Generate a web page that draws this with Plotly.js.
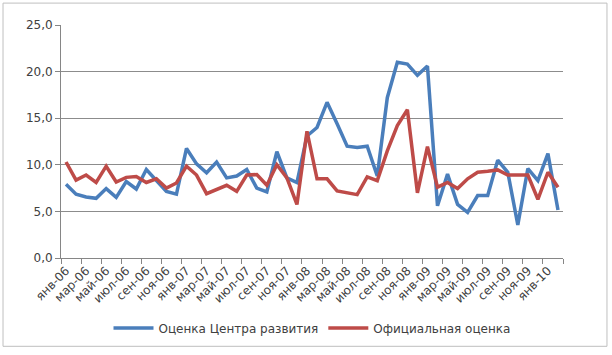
<!DOCTYPE html>
<html>
<head>
<meta charset="utf-8">
<script src="https://cdn.plot.ly/plotly-3.0.1.min.js"></script>
<style>html,body{margin:0;padding:0;background:#fff;}#chart{width:612px;height:355px;}</style>
</head>
<body>
<div id="chart"></div>
<script>
const months = [
  "янв-06","фев-06","мар-06","апр-06","май-06","июн-06","июл-06","авг-06","сен-06","окт-06","ноя-06","дек-06",
  "янв-07","фев-07","мар-07","апр-07","май-07","июн-07","июл-07","авг-07","сен-07","окт-07","ноя-07","дек-07",
  "янв-08","фев-08","мар-08","апр-08","май-08","июн-08","июл-08","авг-08","сен-08","окт-08","ноя-08","дек-08",
  "янв-09","фев-09","мар-09","апр-09","май-09","июн-09","июл-09","авг-09","сен-09","окт-09","ноя-09","дек-09",
  "янв-10","фев-10"
];
const centerEstimate = [
  7.9, 6.85, 6.55, 6.4, 7.45, 6.5, 8.2, 7.4, 9.5, 8.35, 7.15, 6.85,
  11.75, 10.1, 9.15, 10.3, 8.6, 8.8, 9.5, 7.5, 7.1, 11.4, 8.6, 8.1,
  13.1, 14.0, 16.7, 14.4, 12.0, 11.85, 12.0, 8.8, 17.2, 21.0, 20.8, 19.6,
  20.6, 5.6, 9.0, 5.75, 4.9, 6.7, 6.7, 10.5, 9.2, 3.55, 9.6, 8.3,
  11.2, 5.15
];
const officialEstimate = [
  10.3, 8.35, 8.9, 8.1, 9.85, 8.15, 8.65, 8.75, 8.1, 8.5, 7.5, 8.05,
  9.85, 8.9, 6.9, 7.3, 7.8, 7.15, 8.9, 8.95, 7.8, 10.0, 8.6, 5.75,
  13.6, 8.5, 8.5, 7.2, 7.0, 6.8, 8.7, 8.3, 11.5, 14.2, 15.9, 7.0,
  11.95, 7.6, 8.1, 7.45, 8.5, 9.2, 9.3, 9.45, 8.9, 8.9, 8.9, 6.3,
  9.2, 7.6
];
const seriesNames = ["Оценка Центра развития", "Официальная оценка"];
const yTicks = [0, 5, 10, 15, 20, 25];

const font = "DejaVu Sans, Verdana, sans-serif";
const traces = [
  {x: months, y: centerEstimate, name: seriesNames[0], type: "scatter", mode: "lines",
   line: {color: "#4A7EBB", width: 3.5}},
  {x: months, y: officialEstimate, name: seriesNames[1], type: "scatter", mode: "lines",
   line: {color: "#BE4B48", width: 3.5}}
];
const layout = {
  width: 612, height: 355,
  margin: {l: 61, r: 49, t: 25, b: 95},
  paper_bgcolor: "#fff", plot_bgcolor: "#fff",
  separators: ", ",
  showlegend: true,
  legend: {orientation: "h", x: 0.5, xanchor: "center", y: -0.30, yanchor: "middle",
           font: {family: font, size: 12, color: "#404040"}, itemwidth: 40, traceorder: "normal"},
  xaxis: {type: "category", range: [-0.5, months.length - 0.5], dtick: 2, tickangle: -45,
          tickson: "boundaries", ticks: "outside", ticklen: 5, tickcolor: "#868686",
          showline: true, linecolor: "#868686", linewidth: 1, showgrid: false,
          tickfont: {family: font, size: 12, color: "#404040"}, fixedrange: true},
  yaxis: {range: [0, 25], tickvals: yTicks, tickformat: ".1f", showgrid: true, gridcolor: "#8c8c8c",
          gridwidth: 1, showline: true, linecolor: "#868686", linewidth: 1, zeroline: false,
          ticks: "outside", ticklen: 5, tickcolor: "#868686",
          tickfont: {family: font, size: 12, color: "#404040"}, fixedrange: true},
  shapes: [{type: "rect", xref: "paper", yref: "paper",
            x0: -0.1155, x1: 1.0876, y0: -0.379, y1: 1.094,
            line: {color: "#bfbfbf", width: 1}, fillcolor: "rgba(0,0,0,0)"}]
};
Plotly.newPlot("chart", traces, layout, {staticPlot: true, displayModeBar: false});
</script>
</body>
</html>
